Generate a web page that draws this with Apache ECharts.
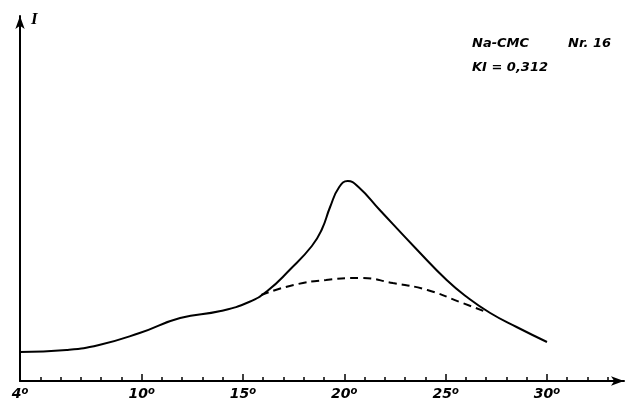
<!DOCTYPE html>
<html>
<head>
<meta charset="utf-8">
<script src="https://cdn.jsdelivr.net/npm/echarts@6/dist/echarts.min.js"></script>
<style>
html,body{margin:0;padding:0;background:#fff;}
#chart{width:633px;height:401px;}
</style>
</head>
<body>
<div id="chart"></div>
<script>
// Measured curve (scattering angle in degrees, intensity in arbitrary units)
const angles = [4.0, 6.3, 7.9, 9.9, 11.9, 13.9, 15.3, 16.2, 17.3, 18.4, 18.9, 19.3, 19.75, 20.17, 20.7, 21.75, 23.6, 25.05, 26.05, 27.2, 28.5, 30.0];
const intensity = [29, 31, 36, 48, 63, 70, 79, 90, 111, 135, 152, 174, 194, 200, 194, 171, 131, 101, 84, 68, 54, 39];
// Amorphous background (dashed)
const bgAngles = [15.9, 17.5, 19.1, 20.8, 22.4, 24.1, 25.7, 27.0];
const bgIntensity = [86, 96, 101, 103, 98, 91, 79, 69];
// Axis ticks / labels
const minorTicks = [5,6,7,8,9,11,12,13,14,16,17,18,19,21,22,23,24,26,27,28,29,31,32,33];
const majorTicks = [10, 15, 20, 25, 30];
const tickLabels = [4, 10, 15, 20, 25, 30];

const chart = echarts.init(document.getElementById('chart'), null, {renderer: 'canvas'});
const labelFont = {fontFamily: 'DejaVu Sans', fontStyle: 'italic', fontWeight: 'bold', color: '#000'};
const option = {
  backgroundColor: '#fff',
  animation: false,
  grid: {left: 20, right: 9, top: 16, bottom: 20},
  xAxis: [{
    type: 'value', min: 4, max: 33.8, position: 'bottom',
    splitLine: {show: false},
    axisLine: {show: true, lineStyle: {color: '#000', width: 2}, symbol: ['none', 'arrow'], symbolSize: [7, 13]},
    axisTick: {show: true, inside: true, length: 4, customValues: minorTicks, lineStyle: {color: '#000', width: 1.5}},
    axisLabel: {show: false}
  }, {
    type: 'value', min: 4, max: 33.8, position: 'bottom',
    splitLine: {show: false},
    axisLine: {show: false},
    axisTick: {show: true, inside: true, length: 7, customValues: majorTicks, lineStyle: {color: '#000', width: 1.5}},
    axisLabel: {
      show: true, customValues: tickLabels, margin: 5,
      formatter: v => '{n|' + v + '}{s|o}',
      rich: {
        n: Object.assign({fontSize: 14, lineHeight: 16}, labelFont),
        s: Object.assign({fontSize: 10, lineHeight: 10, verticalAlign: 'top'}, labelFont)
      }
    }
  }],
  yAxis: {
    type: 'value', min: 0, max: 365,
    splitLine: {show: false},
    axisLine: {show: true, lineStyle: {color: '#000', width: 2}, symbol: ['none', 'arrow'], symbolSize: [7, 13]},
    axisTick: {show: false},
    axisLabel: {show: false}
  },
  series: [{
    type: 'line', xAxisIndex: 0,
    data: angles.map((a, i) => [a, intensity[i]]),
    smooth: 0.5, symbol: 'none',
    lineStyle: {color: '#000', width: 2}
  }, {
    type: 'line', xAxisIndex: 0,
    data: bgAngles.map((a, i) => [a, bgIntensity[i]]),
    smooth: 0.5, symbol: 'none',
    lineStyle: {color: '#000', width: 2, type: [8, 5]}
  }],
  graphic: [
    {type: 'text', left: 31, top: 11, style: {text: 'I', fontFamily: 'Liberation Serif', fontStyle: 'italic', fontWeight: 'bold', fontSize: 17, fill: '#000'}},
    {type: 'text', left: 472, top: 37, style: {text: 'Na-CMC', fontFamily: 'DejaVu Sans', fontStyle: 'italic', fontWeight: 'bold', fontSize: 13, fill: '#000'}},
    {type: 'text', left: 568, top: 37, style: {text: 'Nr. 16', fontFamily: 'DejaVu Sans', fontStyle: 'italic', fontWeight: 'bold', fontSize: 13, fill: '#000'}},
    {type: 'text', left: 472, top: 61, style: {text: 'KI = 0,312', fontFamily: 'DejaVu Sans', fontStyle: 'italic', fontWeight: 'bold', fontSize: 13, fill: '#000'}}
  ]
};
chart.setOption(option);
</script>
</body>
</html>
